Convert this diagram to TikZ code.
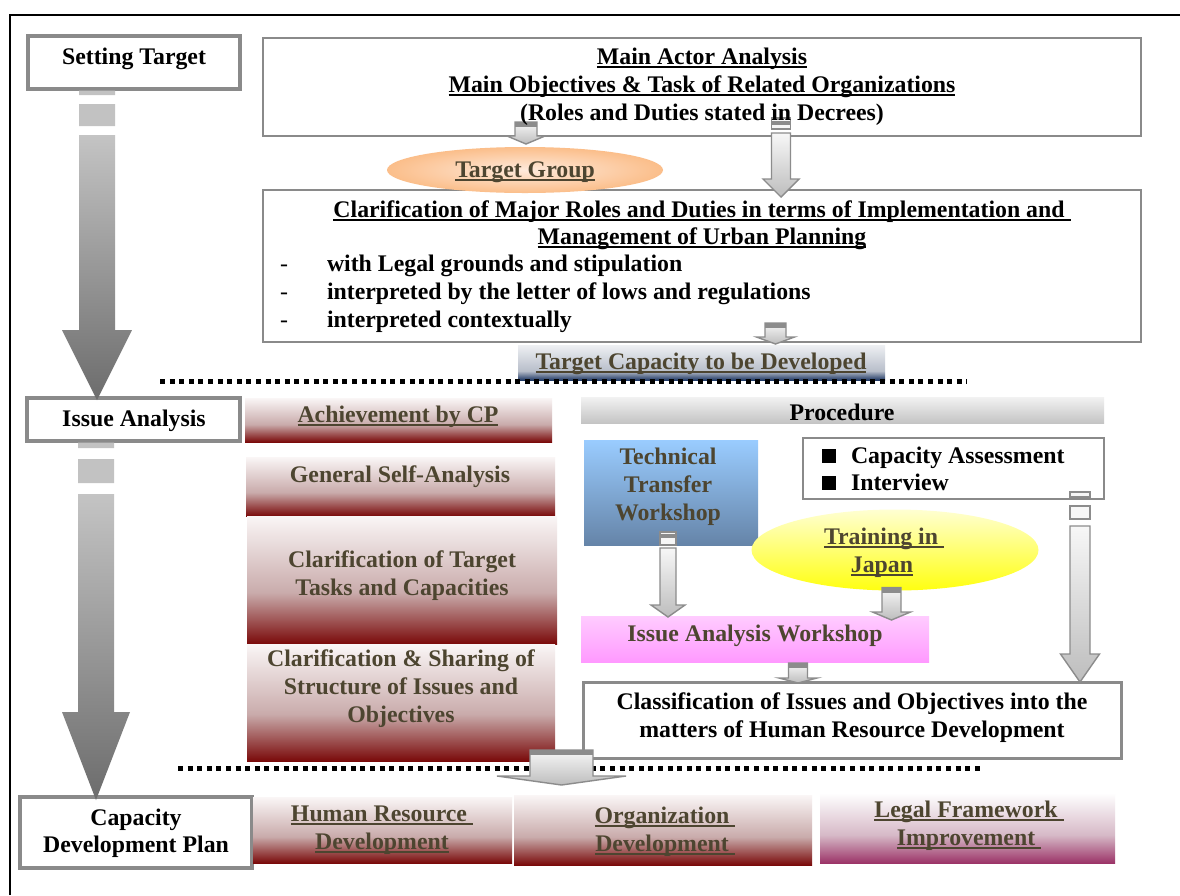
\documentclass[tikz,border=0pt]{standalone}
\usepackage{fontspec}
\setmainfont{Liberation Serif}
\usetikzlibrary{calc,shapes.geometric}

% palette
\definecolor{txtol}{HTML}{4D4530}
\definecolor{boxgray}{HTML}{8A8A8A}
\definecolor{arrgray}{HTML}{8C8C8C}
\definecolor{arrT}{HTML}{F7F7F7}
\definecolor{arrB}{HTML}{BDBDBD}
\definecolor{bigT}{HTML}{C4C4C4}
\definecolor{bigB}{HTML}{6C6C6C}
\definecolor{bigS}{HTML}{C2C2C2}
\definecolor{rdT}{HTML}{FAF6F6}
\definecolor{rdM}{HTML}{C9ABAB}
\definecolor{rdB}{HTML}{7A0A0A}
\definecolor{nvT}{HTML}{EEF0F3}
\definecolor{nvM}{HTML}{B8BECA}
\definecolor{nvB}{HTML}{1F3864}
\definecolor{lgT}{HTML}{FFFFFF}
\definecolor{lgM}{HTML}{D6B9C7}
\definecolor{lgB}{HTML}{9C3468}
\definecolor{prT}{HTML}{F2F2F2}
\definecolor{prB}{HTML}{C4C4C4}
\definecolor{ttT}{HTML}{9ACCFF}
\definecolor{ttB}{HTML}{6584A8}
\definecolor{pkT}{HTML}{FFCCFF}
\definecolor{pkB}{HTML}{FF99FF}
\definecolor{orIn}{HTML}{FEEADC}
\definecolor{orOut}{HTML}{FBBE8A}
\definecolor{ylT}{HTML}{FFFFD2}
\definecolor{ylB}{HTML}{FFFF10}

% fades: 25bp = bottom of the shape, 75bp = top
\pgfdeclareverticalshading{redfade}{100bp}{color(0bp)=(rdB); color(25bp)=(rdB); color(45bp)=(rdM); color(75bp)=(rdT); color(100bp)=(rdT)}
\pgfdeclareverticalshading{navyfade}{100bp}{color(0bp)=(nvB); color(25bp)=(nvB); color(38bp)=(nvM); color(75bp)=(nvT); color(100bp)=(nvT)}
\pgfdeclareverticalshading{plumfade}{100bp}{color(0bp)=(lgB); color(25bp)=(lgB); color(45bp)=(lgM); color(75bp)=(lgT); color(100bp)=(lgT)}

% underline with a firm rule
\newsavebox\ulbox
\newcommand\ulin[1]{\sbox\ulbox{#1}\rlap{\rule[-3.6pt]{\wd\ulbox}{2pt}}\usebox\ulbox}

\tikzset{
  every node/.style={inner sep=0pt, outer sep=0pt},
  txt/.style={font=\fontsize{23.8}{28}\selectfont\bfseries, text height=17pt, text depth=5pt},
  oltxt/.style={txt, text=txtol},
  stagebox/.style={draw=boxgray, line width=3.2pt, fill=white},
  framebox/.style={draw=boxgray, line width=2pt, fill=white},
  redbar/.style={shading=redfade},
  bigarr/.style={top color=bigT, bottom color=bigB},
  smallarr/.style={draw=arrgray, line width=1.4pt, top color=arrT, bottom color=arrB},
  stripe/.style={draw=arrgray, line width=1.4pt, fill=arrT},
  dotline/.style={line width=5pt, dash pattern=on 5pt off 4.6pt},
}

% block arrow with a dark cap: #1 top, #2 tip, #3 shaft half width, #4 head half width, #5 head length
\newcommand\plainarrow[5]{%
  \path[smallarr] let \p1=#1, \p2=#2 in
    (\x1-#3pt,\y1) -- (\x1+#3pt,\y1) -- (\x1+#3pt,\y2+#5pt) -- (\x1+#4pt,\y2+#5pt)
    -- (\x1,\y2) -- (\x1-#4pt,\y2+#5pt) -- (\x1-#3pt,\y2+#5pt) -- cycle;
  \fill[arrgray] let \p1=#1 in (\x1-#3pt,\y1) rectangle (\x1+#3pt,\y1-5pt);}

% block arrow with a broken top: #6 end of stripe 1, #7/#8 stripe 2, #9 start of shaft (below top)
\newcommand\stripearrow[9]{%
  \path[smallarr] let \p1=#1, \p2=#2 in
    (\x1-#3pt,\y1-#9pt) -- (\x1+#3pt,\y1-#9pt) -- (\x1+#3pt,\y2+#5pt) -- (\x1+#4pt,\y2+#5pt)
    -- (\x1,\y2) -- (\x1-#4pt,\y2+#5pt) -- (\x1-#3pt,\y2+#5pt) -- cycle;
  \path[stripe] let \p1=#1 in (\x1-#3pt,\y1) rectangle (\x1+#3pt,\y1-#6pt)
    (\x1-#3pt,\y1-#7pt) rectangle (\x1+#3pt,\y1-#8pt);}

\begin{document}
\begin{tikzpicture}[x=1pt,y=-1pt]
\useasboundingbox (0,0) rectangle (1180,895);
\fill[white] (0,0) rectangle (1180,895);

% outer frame
\draw[line width=2pt] (10,895) -- (10,15) -- (1180,15);

% stage boxes on the left
\node[stagebox, minimum width=212pt, minimum height=53pt] (st) at (134,62.5) {};
\node[stagebox, minimum width=213pt, minimum height=43pt] (ia) at (133.5,419.5) {};
\node[stagebox, minimum width=232pt, minimum height=71pt] (cp) at (136,832.5) {};

% setting target
\node[framebox, minimum width=878pt, minimum height=98pt] (ma) at (702,87) {};
\node[framebox, minimum width=878pt, minimum height=152pt] (cl) at (702,266) {};
\node[ellipse, shading=radial, inner color=orIn, outer color=orOut, minimum width=276pt, minimum height=46pt] (tg) at (525,170) {};
\node[shading=navyfade, minimum width=367pt, minimum height=35pt] (tc) at (701.5,362.5) {};

% issue analysis
\node[redbar, minimum width=307pt, minimum height=44pt] (ach) at (398.5,420) {};
\node[redbar, minimum width=309pt, minimum height=59pt] (gsa) at (400.5,486.5) {};
\node[redbar, minimum width=310pt, minimum height=128pt] (ctt) at (402,580) {};
\node[redbar, minimum width=308pt, minimum height=117pt] (css) at (401,702.5) {};
\node[top color=prT, bottom color=prB, minimum width=523pt, minimum height=26pt] (proc) at (842.5,410) {};
\node[top color=ttT, bottom color=ttB, minimum width=174pt, minimum height=105pt] (tt) at (671,492.5) {};
\node[draw=boxgray, line width=2.6pt, fill=white, minimum width=301pt, minimum height=61pt] (ca) at (953.5,468.5) {};
\node[ellipse, top color=ylT, bottom color=ylB, minimum width=287pt, minimum height=81pt] (tj) at (895,550) {};
\node[top color=pkT, bottom color=pkB, minimum width=348pt, minimum height=46pt] (iaw) at (755,639) {};
\node[draw=boxgray, line width=3pt, fill=white, minimum width=538pt, minimum height=76pt] (clf) at (852,720) {};

% capacity development plan
\node[redbar, minimum width=259pt, minimum height=66pt] (hr) at (382.5,830) {};
\node[redbar, minimum width=298pt, minimum height=70pt] (od) at (663,830) {};
\node[shading=plumfade, minimum width=295pt, minimum height=70pt] (lf) at (967.5,828) {};

% separators
\draw[dotline] (160,381) -- (967,381);
\draw[dotline] (178,768) -- (983,768);

% stage arrows
\coordinate (a1top) at ($(st.south)+(-37,0)$);
\coordinate (a1tip) at ($(a1top |- ia.north)+(0,2)$);
\path[bigarr] let \p1=(a1top), \p2=(a1tip) in
  (\x1-18pt,\y1-46pt) -- (\x1+18pt,\y1-46pt) -- (\x1+18pt,\y2+70pt) -- (\x1+35pt,\y2+70pt)
  -- (\x1,\y2) -- (\x1-35pt,\y2+70pt) -- (\x1-18pt,\y2+70pt) -- cycle;
\fill[bigS] let \p1=(a1top) in (\x1-18pt,\y1-1.6pt) rectangle (\x1+18pt,\y1-6pt)
  (\x1-18pt,\y1-15pt) rectangle (\x1+18pt,\y1-37pt);

\coordinate (a2top) at ($(ia.south)+(-37.5,0)$);
\coordinate (a2tip) at ($(a2top |- cp.north)+(0,3)$);
\path[bigarr] let \p1=(a2top), \p2=(a2tip) in
  (\x1-18pt,\y1-53pt) -- (\x1+18pt,\y1-53pt) -- (\x1+18pt,\y2+88pt) -- (\x1+34pt,\y2+88pt)
  -- (\x1,\y2) -- (\x1-34pt,\y2+88pt) -- (\x1-18pt,\y2+88pt) -- cycle;
\fill[bigS] let \p1=(a2top) in (\x1-18pt,\y1-1.6pt) rectangle (\x1+18pt,\y1-7pt)
  (\x1-18pt,\y1-18pt) rectangle (\x1+18pt,\y1-42pt);

% flow arrows between the boxes
\plainarrow{($(ma.south -| tg.north)+(1,-14)$)}{($(tg.north)+(1,-3)$)}{11}{19}{8}
\stripearrow{($(ma.south)+(79,-18)$)}{($(cl.north)+(79,7)$)}{9.5}{18}{18}{4}{6}{11}{15}
\plainarrow{($(cl.south)+(73.5,-19)$)}{($(tc.north)+(74,-1)$)}{10.5}{19}{7}
\stripearrow{($(tt.south)+(-3,-13)$)}{($(iaw.north -| tt.south)+(-3,1)$)}{8}{17}{12}{3}{5}{13}{16}
\plainarrow{($(tj.south)+(-3.5,-3)$)}{($(iaw.north -| tj.south)+(-3.5,4)$)}{9.5}{19}{8}
\plainarrow{($(iaw.south)+(43,1)$)}{($(clf.north -| iaw.south)+(43,1)$)}{9.5}{19}{5}
\stripearrow{($(ca.south)+(126.5,-7)$)}{($(clf.north -| ca.south)+(126.5,0)$)}{10}{19.5}{28}{5}{14}{27}{34}
\plainarrow{($(css.south)+(160.5,-11)$)}{($(hr.north)+(179,-12)$)}{31.5}{64.5}{9}

% texts: stages
\node[txt] (st-t) at (134,58) {Setting Target};
\node[txt] (ia-t) at (134,420) {Issue Analysis};
\node[txt] (cp-t1) at (136,819) {Capacity};
\node[txt] (cp-t2) at (136,846) {Development Plan};

% texts: setting target
\node[txt] (ma-t1) at (702,58) {\ulin{Main Actor Analysis}};
\node[txt] (ma-t2) at (702,86) {\ulin{Main Objectives \& Task of Related Organizations}};
\node[txt] (ma-t3) at (702,114) {(Roles and Duties stated in Decrees)};
\node[oltxt] (tg-t) at (525,171) {\ulin{Target Group}};
\node[txt] (cl-t1) at (702,211) {\ulin{Clarification of Major Roles and Duties in terms of Implementation and\ }};
\node[txt] (cl-t2) at (702,238) {\ulin{Management of Urban Planning}};
\foreach \yy/\tx [count=\i] in {265/with Legal grounds and stipulation,
    293/interpreted by the letter of lows and regulations,
    321/interpreted contextually}{
  \node[txt, anchor=west] (cl-d\i) at (280,\yy) {\mdseries -};
  \node[txt, anchor=west] (cl-b\i) at (327,\yy) {\tx};
}
\node[oltxt] (tc-t) at (701,363) {\ulin{Target Capacity to be Developed}};

% texts: issue analysis
\node[oltxt] (ach-t) at (398,416) {\ulin{Achievement by CP}};
\node[oltxt] (gsa-t) at (400,476) {General Self-Analysis};
\node[oltxt] (ctt-t1) at (402,561) {Clarification of Target};
\node[oltxt] (ctt-t2) at (402,589) {Tasks and Capacities};
\node[oltxt] (css-t1) at (401,660) {Clarification \& Sharing of};
\node[oltxt] (css-t2) at (401,688) {Structure of Issues and};
\node[oltxt] (css-t3) at (401,716) {Objectives};
\node[txt] (proc-t) at (842,414) {Procedure};
\node[oltxt] (tt-t1) at (668,458) {Technical};
\node[oltxt] (tt-t2) at (668,486) {Transfer};
\node[oltxt] (tt-t3) at (668,514) {Workshop};
\node[txt, anchor=west] (ca-t1) at (822,457) {\rule{14pt}{14pt}\hspace{15pt}Capacity Assessment};
\node[txt, anchor=west] (ca-t2) at (822,484) {\rule{14pt}{14pt}\hspace{15pt}Interview};
\node[oltxt] (tj-t1) at (884,538) {\ulin{Training in\ }};
\node[oltxt] (tj-t2) at (882,566) {\ulin{Japan}};
\node[oltxt] (iaw-t) at (755,635) {Issue Analysis Workshop};
\node[txt] (clf-t1) at (852,703) {Classification of Issues and Objectives into the};
\node[txt] (clf-t2) at (852,731) {matters of Human Resource Development};

% texts: capacity development plan
\node[oltxt] (hr-t1) at (382,815) {\ulin{Human Resource\ }};
\node[oltxt] (hr-t2) at (382,843) {\ulin{Development}};
\node[oltxt] (od-t1) at (665,817) {\ulin{Organization\ }};
\node[oltxt] (od-t2) at (665,845) {\ulin{Development\ }};
\node[oltxt] (lf-t1) at (969,811) {\ulin{Legal Framework\ }};
\node[oltxt] (lf-t2) at (969,839) {\ulin{Improvement\ }};
\end{tikzpicture}
\end{document}
